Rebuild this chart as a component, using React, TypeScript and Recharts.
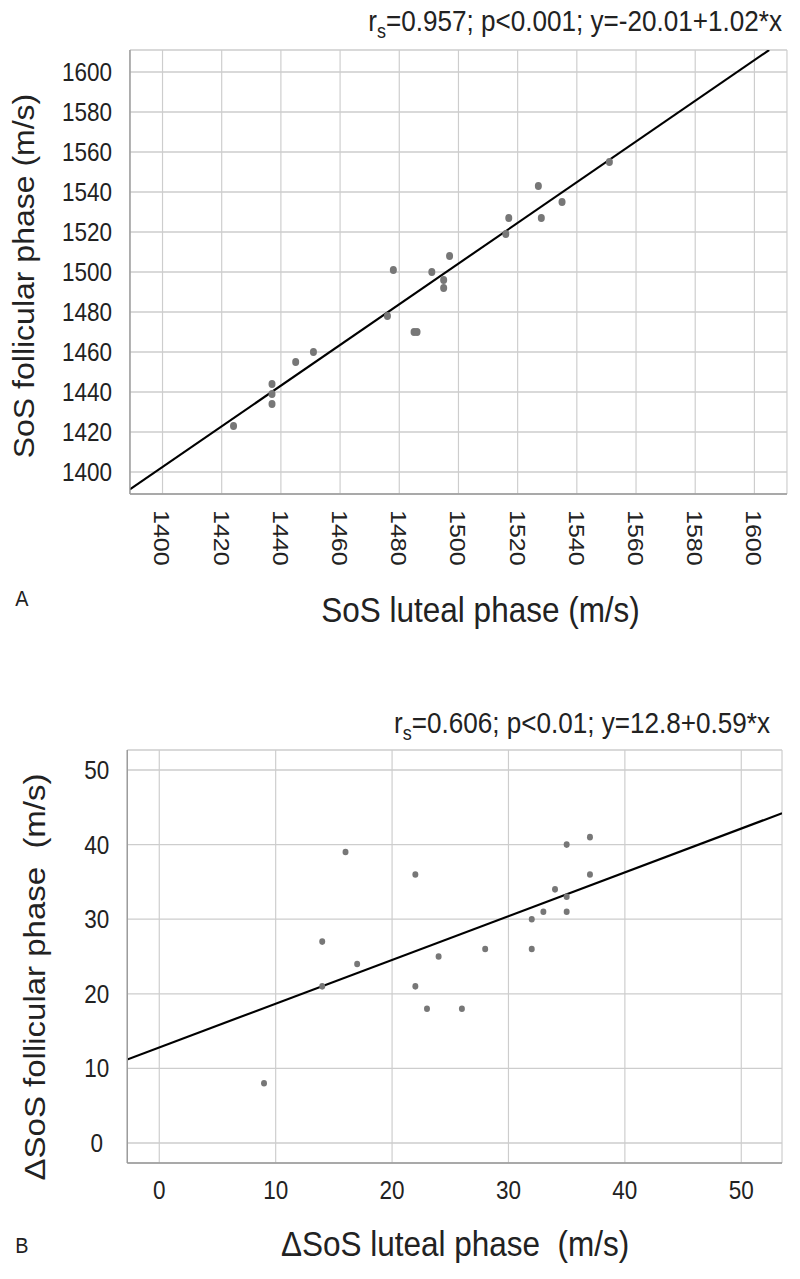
import { ScatterChart, Scatter, XAxis, YAxis, CartesianGrid, ReferenceLine } from "recharts";

// panel A: absolute SoS (m/s)
const lutealA = [1551, 1527, 1535, 1517, 1528, 1516, 1497, 1478, 1491, 1495, 1495, 1476, 1485, 1486, 1451, 1445, 1437, 1437, 1437, 1424];
const follicularA = [1555, 1543, 1535, 1527, 1527, 1519, 1508, 1501, 1500, 1496, 1492, 1478, 1470, 1470, 1460, 1455, 1444, 1439, 1434, 1423];
const ticksA = [1400, 1420, 1440, 1460, 1480, 1500, 1520, 1540, 1560, 1580, 1600];
// fitted line as drawn in the figure
const fitA = [{ x: 1389, y: 1391.3 }, { x: 1605, y: 1611 }];

// panel B: delta SoS (m/s)
const lutealB = [9, 14, 14, 16, 17, 22, 22, 23, 24, 26, 28, 32, 32, 33, 34, 35, 35, 35, 37, 37];
const follicularB = [8, 21, 27, 39, 24, 36, 21, 18, 25, 18, 26, 30, 26, 31, 34, 40, 33, 31, 41, 36];
const ticksB = [0, 10, 20, 30, 40, 50];
const fitB = [{ x: -2.75, y: 11.2 }, { x: 53.5, y: 44.2 }];

const pointsA = lutealA.map((x, i) => ({ x, y: follicularA[i] }));
const pointsB = lutealB.map((x, i) => ({ x, y: follicularB[i] }));

// the original figure is squeezed horizontally
const SX = 0.9;
const W = 889;
const FONT = '"Liberation Sans", Arial, Helvetica, sans-serif';
const INK = "#222";
const GRID = "#cdcdcd";
const AXIS = "#999";
const DOT = "#777";

function RotTick(props: any) {
  const { x, y, payload } = props;
  const ty = y + 16;
  return (
    <text x={x} y={ty} transform={`rotate(90 ${x} ${ty})`} textAnchor="start" dominantBaseline="central" fontSize={25} fill={INK} fontFamily={FONT}>
      {payload.value}
    </text>
  );
}

function LeftTickA(props: any) {
  const { x, y, payload } = props;
  return (
    <text x={x - 20} y={y} textAnchor="end" dominantBaseline="central" fontSize={25} fill={INK} fontFamily={FONT}>
      {payload.value}
    </text>
  );
}

function LeftTickB(props: any) {
  const { x, y, payload } = props;
  return (
    <text x={x - 34} y={y} textAnchor="middle" dominantBaseline="central" fontSize={25} fill={INK} fontFamily={FONT}>
      {payload.value}
    </text>
  );
}

function BottomTickB(props: any) {
  const { x, y, payload } = props;
  return (
    <text x={x} y={y + 27} textAnchor="middle" dominantBaseline="central" fontSize={25} fill={INK} fontFamily={FONT}>
      {payload.value}
    </text>
  );
}

const Dot = (r: number) => (props: any) => <circle cx={props.cx} cy={props.cy} r={r} fill={DOT} />;

export default function App() {
  return (
    <div style={{ position: "absolute", left: 0, top: 0, width: 800, height: 1279, overflow: "hidden", background: "#fff" }}>
      <div style={{ position: "absolute", left: 0, top: 0, width: W, height: 1279, transform: `scaleX(${SX})`, transformOrigin: "0 0" }}>
        <div style={{ position: "absolute", left: 0, top: 0 }}>
          <ScatterChart width={W} height={640} margin={{ top: 50, right: 14.6, bottom: 0, left: 0 }}>
            <CartesianGrid stroke={GRID} strokeWidth={1.3} />
            <XAxis type="number" dataKey="x" domain={[1389, 1611]} ticks={ticksA} allowDataOverflow height={146}
              axisLine={{ stroke: AXIS, strokeWidth: 1.5 }} tickLine={false} tickSize={0} tickMargin={0} tick={<RotTick />} />
            <YAxis type="number" dataKey="y" domain={[1389, 1611]} ticks={ticksA} allowDataOverflow width={144.4}
              axisLine={{ stroke: AXIS, strokeWidth: 1.5 }} tickLine={false} tickSize={0} tickMargin={0} tick={<LeftTickA />} />
            <ReferenceLine segment={[fitA[0], fitA[1]]} stroke="#000" strokeWidth={2.2} ifOverflow="hidden" />
            <Scatter data={pointsA} shape={Dot(3.9)} isAnimationActive={false} />
          </ScatterChart>
        </div>
        <div style={{ position: "absolute", left: 0, top: 640 }}>
          <ScatterChart width={W} height={639} margin={{ top: 110, right: 20.1, bottom: 0, left: 0 }}>
            <CartesianGrid stroke={GRID} strokeWidth={1.3} />
            <XAxis type="number" dataKey="x" domain={[-2.75, 53.5]} ticks={ticksB} allowDataOverflow height={116}
              axisLine={{ stroke: AXIS, strokeWidth: 1.5 }} tickLine={false} tickSize={0} tickMargin={0} tick={<BottomTickB />} />
            <YAxis type="number" dataKey="y" domain={[-2.68, 52.68]} ticks={ticksB} allowDataOverflow width={141.4}
              axisLine={{ stroke: AXIS, strokeWidth: 1.5 }} tickLine={false} tickSize={0} tickMargin={0} tick={<LeftTickB />} />
            <ReferenceLine segment={[fitB[0], fitB[1]]} stroke="#000" strokeWidth={2.2} ifOverflow="hidden" />
            <Scatter data={pointsB} shape={Dot(3.3)} isAnimationActive={false} />
          </ScatterChart>
        </div>
        <svg width={W} height={1279} style={{ position: "absolute", left: 0, top: 0, pointerEvents: "none" }} fontFamily={FONT} fill={INK}>
          <text x={868.9} y={31} textAnchor="end" fontSize={29}>
            r<tspan fontSize={20} dy={7}>s</tspan><tspan dy={-7}>=0.957; p&lt;0.001; y=-20.01+1.02*x</tspan>
          </text>
          <text transform="translate(26 276) rotate(-90)" textAnchor="middle" dominantBaseline="central" fontSize={32}>
            SoS follicular phase (m/s)
          </text>
          <text x={534} y={622} textAnchor="middle" fontSize={35}>SoS luteal phase (m/s)</text>
          <text x={24.4} y={606} textAnchor="middle" fontSize={22}>A</text>

          <text x={855.6} y={733} textAnchor="end" fontSize={29}>
            r<tspan fontSize={20} dy={7}>s</tspan><tspan dy={-7}>=0.606; p&lt;0.01; y=12.8+0.59*x</tspan>
          </text>
          <text transform="translate(39 977) rotate(-90)" textAnchor="middle" dominantBaseline="central" fontSize={33} style={{ whiteSpace: "pre" }}>
            ΔSoS follicular phase  (m/s)
          </text>
          <text x={505.6} y={1256} textAnchor="middle" fontSize={35} style={{ whiteSpace: "pre" }}>ΔSoS luteal phase  (m/s)</text>
          <text x={24.4} y={1253} textAnchor="middle" fontSize={22}>B</text>
        </svg>
      </div>
    </div>
  );
}
